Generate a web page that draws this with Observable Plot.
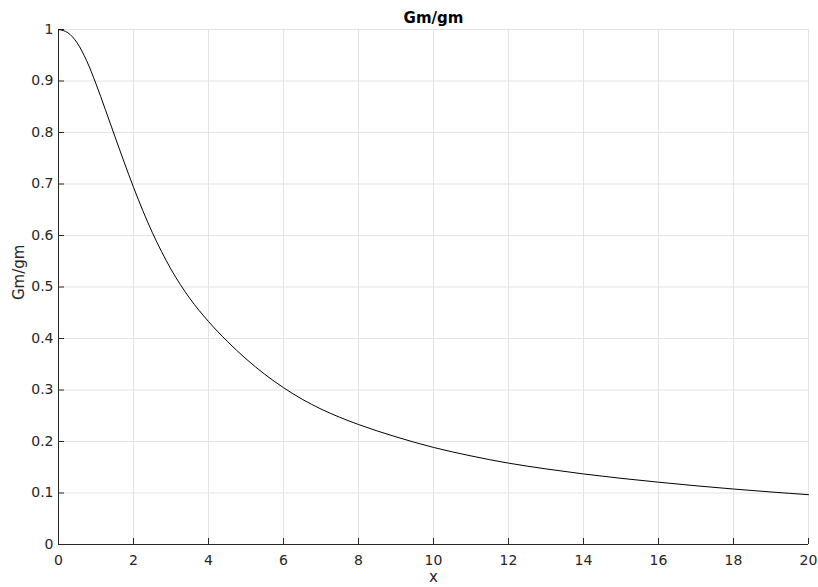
<!DOCTYPE html>
<html>
<head>
<meta charset="utf-8">
<script src="https://cdn.jsdelivr.net/npm/d3@7"></script>
<script src="https://cdn.jsdelivr.net/npm/@observablehq/plot@0.6"></script>
<style>
  html, body { margin: 0; padding: 0; background: #fff; }
  #chart { width: 818px; height: 587px; }
</style>
</head>
<body>
<div id="chart"></div>
<script>
const xValues = [0, 0.25, 0.5, 0.75, 1, 1.25, 1.5, 1.75, 2, 2.25, 2.5, 2.75, 3, 3.5, 4, 4.5, 5, 5.5, 6, 6.5, 7, 7.5, 8, 9, 10, 11, 12, 13, 14, 15, 16, 17, 18, 19, 20];
const yValues = [1.0, 0.9937, 0.9737, 0.9394, 0.8944, 0.8444, 0.7931, 0.7425, 0.6938, 0.648, 0.606, 0.5685, 0.5345, 0.478, 0.433, 0.3945, 0.3605, 0.3305, 0.3045, 0.282, 0.263, 0.247, 0.233, 0.209, 0.1885, 0.172, 0.158, 0.1468, 0.137, 0.1285, 0.121, 0.114, 0.1077, 0.102, 0.0967];
const xTicks = [0, 2, 4, 6, 8, 10, 12, 14, 16, 18, 20];
const yTicks = [0, 0.1, 0.2, 0.3, 0.4, 0.5, 0.6, 0.7, 0.8, 0.9, 1];
const titleText = "Gm/gm";
const xLabel = "x";
const yLabel = "Gm/gm";

const data = xValues.map((x, i) => ({x, y: yValues[i]}));
const axisColor = "#262626";
const gridColor = "#e3e3e3";

const chart = Plot.plot({
  width: 818,
  height: 587,
  marginLeft: 58,
  marginRight: 10,
  marginTop: 29,
  marginBottom: 43,
  x: {domain: [0, 20]},
  y: {domain: [0, 1]},
  style: {fontFamily: "'DejaVu Sans', sans-serif", fontSize: "14px", color: axisColor, background: "#fff"},
  marks: [
    Plot.gridX(xTicks, {stroke: gridColor, strokeOpacity: 1}),
    Plot.gridY(yTicks, {stroke: gridColor, strokeOpacity: 1}),
    Plot.ruleX([0], {stroke: axisColor}),
    Plot.ruleY([0], {stroke: axisColor}),
    Plot.axisX(xTicks, {tickSize: -6, tickPadding: 17, stroke: axisColor, fill: axisColor, label: null, tickFormat: d => String(d)}),
    Plot.axisY(yTicks, {tickSize: -6, tickPadding: 11, stroke: axisColor, fill: axisColor, label: null, tickFormat: d => String(d)}),
    Plot.line(data, {x: "x", y: "y", stroke: "#000", strokeWidth: 1, curve: "monotone-x"}),
    Plot.text([titleText], {frameAnchor: "top", dy: -11, lineAnchor: "middle", fontWeight: "bold", fontSize: 15, fill: "#000"}),
    Plot.text([xLabel], {frameAnchor: "bottom", dy: 33, lineAnchor: "middle", fontSize: 15, fill: axisColor}),
    Plot.text([yLabel], {frameAnchor: "left", dx: -39, dy: 13, rotate: -90, textAnchor: "start", lineAnchor: "middle", fontSize: 15, fill: axisColor})
  ]
});
document.getElementById("chart").appendChild(chart);
</script>
</body>
</html>
